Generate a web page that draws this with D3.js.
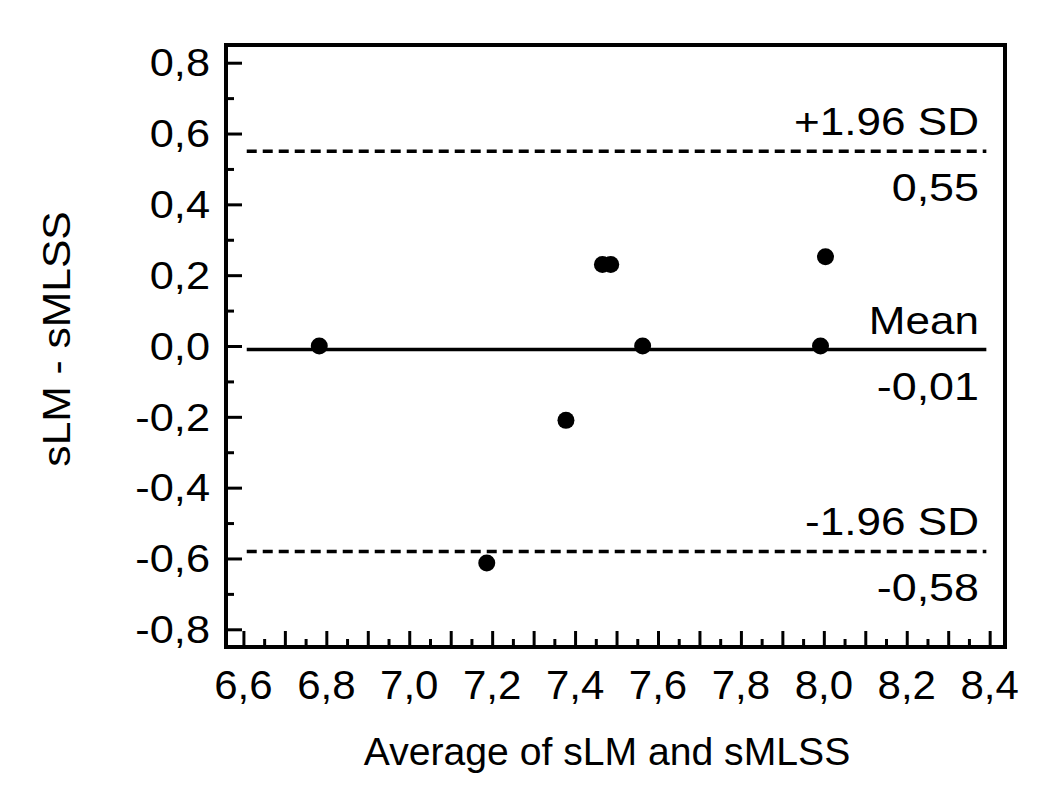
<!DOCTYPE html>
<html>
<head>
<meta charset="utf-8">
<script src="https://cdn.jsdelivr.net/npm/d3@7"></script>
<style>
  html, body { margin: 0; padding: 0; background: #fff; }
  svg { display: block; }
  text { font-family: "Liberation Sans", Arial, sans-serif; fill: #000; }
</style>
</head>
<body>
<svg id="chart" width="1053" height="795"></svg>
<script>
// ---- data ----
const avgValues  = [6.783, 7.187, 7.378, 7.466, 7.486, 7.563, 7.992, 8.004];
const diffValues = [0.00, -0.613, -0.21, 0.23, 0.23, 0.00, 0.00, 0.252];
const xTickLabels = [6.6, 6.8, 7.0, 7.2, 7.4, 7.6, 7.8, 8.0, 8.2, 8.4];
const yTickLabels = [-0.8, -0.6, -0.4, -0.2, 0.0, 0.2, 0.4, 0.6, 0.8];
const refNames  = ["+1.96 SD", "Mean", "-1.96 SD"];
const refValues = [0.55, -0.01, -0.58];
const refValueLabels = ["0,55", "-0,01", "-0,58"];
const xTitle = "Average of sLM and sMLSS";
const yTitle = "sLM - sMLSS";

// ---- layout ----
const svg = d3.select("#chart");
const L = 226, R = 1005, T = 45, B = 647;
const x = d3.scaleLinear().domain([6.558, 8.437]).range([L, R]);
const y = d3.scaleLinear().domain([-0.85, 0.85]).range([B, T]);
const fmt = v => d3.format(".1f")(v).replace(".", ",").replace("−", "-");

// text helper: positioned group with horizontal stretch
function label(parent, px, py, str, opts) {
  const o = Object.assign({ size: 38, sx: 1, anchor: "start", rotate: 0, dy: null }, opts);
  const g = parent.append("g")
    .attr("transform", `translate(${px},${py}) rotate(${o.rotate}) scale(${o.sx},1)`);
  const t = g.append("text").attr("text-anchor", o.anchor).attr("font-size", o.size).text(str);
  if (o.dy) t.attr("dy", o.dy);
  return g;
}

// minor / major ticks
const xMajor = d3.range(6.6, 8.4001, 0.1);
const xMinor = d3.range(6.65, 8.4, 0.1);
const yMajor = yTickLabels;
const yMinor = d3.range(-0.7, 0.8, 0.2);

const gx = svg.append("g").attr("transform", `translate(0,${B})`);
gx.call(d3.axisBottom(x).tickValues(xMajor).tickSize(-16).tickFormat(""));
gx.append("g").call(d3.axisBottom(x).tickValues(xMinor).tickSize(-8).tickFormat(""));
gx.selectAll(".domain").remove();
gx.selectAll("line").attr("stroke", "#000").attr("stroke-width", 3);

const gy = svg.append("g").attr("transform", `translate(${L},0)`);
gy.call(d3.axisLeft(y).tickValues(yMajor).tickSize(-16).tickFormat(""));
gy.append("g").call(d3.axisLeft(y).tickValues(yMinor).tickSize(-8).tickFormat(""));
gy.selectAll(".domain").remove();
gy.selectAll("line").attr("stroke", "#000").attr("stroke-width", 3);

// tick labels
const xl = svg.append("g");
xTickLabels.forEach(d => label(xl, x(d), 699, fmt(d), { size: 40, sx: 1.05, anchor: "middle" }));
const yl = svg.append("g");
yTickLabels.forEach(d => label(yl, 210, y(d), fmt(d), { size: 38, sx: 1.14, anchor: "end", dy: "0.36em" }));

// reference lines
const refG = svg.append("g");
refValues.forEach((v, i) => {
  refG.append("line")
    .attr("x1", x(6.608)).attr("x2", x(8.392))
    .attr("y1", y(v)).attr("y2", y(v))
    .attr("stroke", "#000").attr("stroke-width", 3.5)
    .attr("stroke-dasharray", i === 1 ? null : "10,6");
  label(refG, 979, y(v) - 16, refNames[i], { size: 39, sx: 1.13, anchor: "end" });
  label(refG, 979, y(v) + 50, refValueLabels[i], { size: 39, sx: 1.15, anchor: "end" });
});

// points
svg.append("g").selectAll("circle").data(avgValues).join("circle")
  .attr("cx", d => x(d)).attr("cy", (d, i) => y(diffValues[i]))
  .attr("r", 8.5).attr("fill", "#000");

// frame
svg.append("rect").attr("x", L).attr("y", T).attr("width", R - L).attr("height", B - T)
  .attr("fill", "none").attr("stroke", "#000").attr("stroke-width", 4);

// axis titles
label(svg, 607, 765, xTitle, { size: 38, sx: 1.03, anchor: "middle" });
label(svg, 70, 339, yTitle, { size: 38, sx: 1.12, anchor: "middle", rotate: -90 });
</script>
</body>
</html>
